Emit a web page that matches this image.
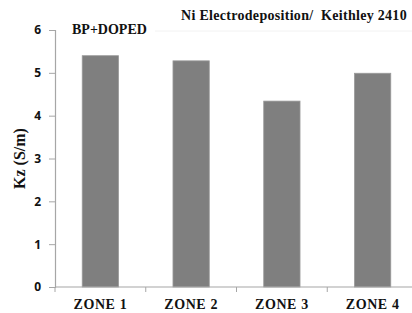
<!DOCTYPE html>
<html>
<head>
<meta charset="utf-8">
<script src="https://cdn.jsdelivr.net/npm/d3@7"></script>
<style>
  body { margin: 0; background: #fff; }
  svg { display: block; }
  .serif { font-family: "Liberation Serif", "Times New Roman", "DejaVu Serif", serif; font-weight: bold; }
</style>
</head>
<body>
<div id="chart"></div>
<script>
// data
const zones = ["ZONE 1", "ZONE 2", "ZONE 3", "ZONE 4"];
const kzValues = [5.4, 5.28, 4.34, 4.99];
const yTicks = [0, 1, 2, 3, 4, 5, 6];

const width = 412;
const height = 313;
const margin = { top: 30, right: -6, bottom: 26, left: 55 };

const svg = d3
  .select("#chart")
  .append("svg")
  .attr("width", width)
  .attr("height", height);

const x = d3
  .scaleBand()
  .domain(zones)
  .range([margin.left, width - margin.right])
  .paddingInner(0.6)
  .paddingOuter(0.3);

const y = d3
  .scaleLinear()
  .domain([0, 6])
  .range([height - margin.bottom, margin.top]);

// faint line along the top
svg
  .append("line")
  .attr("x1", 155)
  .attr("x2", width)
  .attr("y1", y(6) + 1)
  .attr("y2", y(6) + 1)
  .attr("stroke", "#f2f2f2")
  .attr("stroke-width", 1);

// bars
svg
  .selectAll(".bar")
  .data(zones)
  .join("rect")
  .attr("class", "bar")
  .attr("x", (d) => x(d))
  .attr("y", (d, i) => y(kzValues[i]))
  .attr("width", x.bandwidth())
  .attr("height", (d, i) => y(0) - y(kzValues[i]))
  .attr("fill", "#7f7f7f")
  .attr("stroke", "#9a9a9a")
  .attr("stroke-width", 0.8);

// y axis
const yAxis = svg
  .append("g")
  .attr("transform", `translate(${margin.left},0)`)
  .call(
    d3
      .axisLeft(y)
      .tickValues(yTicks)
      .tickFormat(d3.format("d"))
      .tickSize(6)
      .tickPadding(8)
  );

yAxis.select(".domain").attr("stroke", "#a6a6a6").attr("stroke-width", 1.2);
yAxis.selectAll(".tick line").attr("stroke", "#a6a6a6");
yAxis
  .selectAll(".tick text")
  .attr("fill", "#111")
  .style("font-family", "'Open Sans', 'DejaVu Sans', sans-serif")
  .style("font-weight", "bold")
  .style("font-size", "12px");

// x axis
const step = x.step();
const boundaries = d3.range(zones.length + 1).map((i) => margin.left + i * step);

svg
  .append("line")
  .attr("x1", margin.left)
  .attr("x2", width)
  .attr("y1", y(0))
  .attr("y2", y(0))
  .attr("stroke", "#a6a6a6")
  .attr("stroke-width", 1.2);

svg
  .selectAll(".xtick")
  .data(boundaries)
  .join("line")
  .attr("class", "xtick")
  .attr("x1", (d) => d)
  .attr("x2", (d) => d)
  .attr("y1", y(0))
  .attr("y2", y(0) + 5)
  .attr("stroke", "#a6a6a6");

svg
  .selectAll(".xlabel")
  .data(zones)
  .join("text")
  .attr("class", "xlabel serif")
  .attr("x", (d) => x(d) + x.bandwidth() / 2)
  .attr("y", 309)
  .attr("text-anchor", "middle")
  .style("font-size", "14px")
  .style("letter-spacing", "0.6px")
  .attr("fill", "#111")
  .text((d) => d);

// y axis title
svg
  .append("text")
  .attr("class", "serif")
  .attr("transform", `translate(25,${y(3)}) rotate(-90)`)
  .attr("text-anchor", "middle")
  .style("font-size", "16px")
  .attr("fill", "#111")
  .text("Kz (S/m)");

// annotations
svg
  .append("text")
  .attr("class", "serif")
  .attr("x", 72)
  .attr("y", 34)
  .style("font-size", "14px")
  .attr("fill", "#111")
  .text("BP+DOPED");

svg
  .append("text")
  .attr("class", "serif")
  .attr("x", 181)
  .attr("y", 20)
  .style("font-size", "14px")
  .style("letter-spacing", "0.3px")
  .style("white-space", "pre")
  .attr("fill", "#111")
  .text("Ni Electrodeposition/  Keithley 2410");
</script>
</body>
</html>
